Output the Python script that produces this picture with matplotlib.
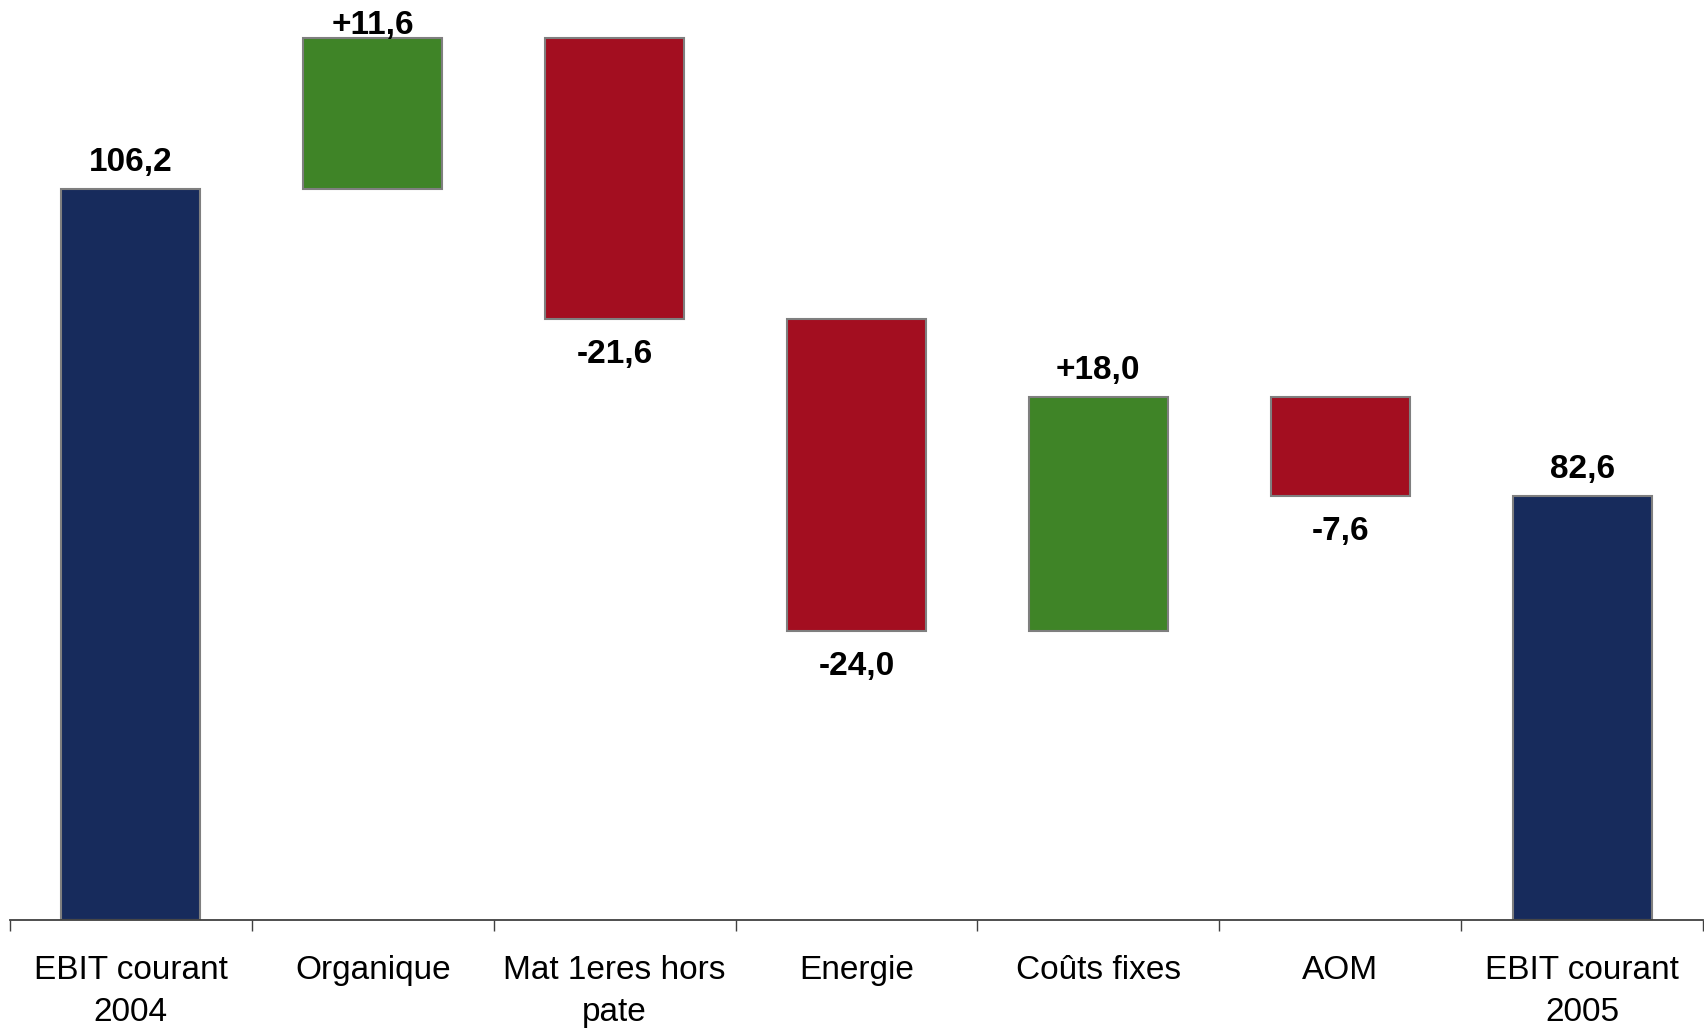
import matplotlib
matplotlib.use("Agg")
import matplotlib.pyplot as plt
import numpy as np

categories = ["EBIT courant\n2004", "Organique", "Mat 1eres hors\npate", "Energie",
              "Coûts fixes", "AOM", "EBIT courant\n2005"]
start_value = 106.2
changes = [11.6, -21.6, -24.0, 18.0, -7.6]
end_value = 82.6
value_labels = ["106,2", "+11,6", "-21,6", "-24,0", "+18,0", "-7,6", "82,6"]

NAVY = "#172B5C"
GREEN = "#3F8427"
RED = "#A30E20"
EDGE = "#7F7F7F"

plt.rcParams['font.family'] = ['Liberation Sans', 'DejaVu Sans']

W, H, DPI = 17.04, 10.28, 100
fig = plt.figure(figsize=(W, H), dpi=DPI)
ax = fig.add_axes([10 / 1704, 108 / 1028, 1693 / 1704, 920 / 1028])

y_min, y_max = 50.0, 120.72
ax.set_ylim(y_min, y_max)
ax.set_xlim(-0.5, len(categories) - 0.5)

# compute bars
bottoms, heights, colors = [], [], []
bottoms.append(y_min); heights.append(start_value - y_min); colors.append(NAVY)
running = start_value
for c in changes:
    if c >= 0:
        bottoms.append(running); heights.append(c); colors.append(GREEN)
    else:
        bottoms.append(running + c); heights.append(-c); colors.append(RED)
    running += c
bottoms.append(y_min); heights.append(end_value - y_min); colors.append(NAVY)

x = np.arange(len(categories))
ax.bar(x, heights, bottom=bottoms, width=0.575, color=colors,
       edgecolor=EDGE, linewidth=1.5, zorder=2)

px_per_unit = (920 / (y_max - y_min))
signs = [1] + [1 if c >= 0 else -1 for c in changes] + [1]
for i, (b, h, s, lab) in enumerate(zip(bottoms, heights, signs, value_labels)):
    if s > 0:
        top = b + h
        room = (y_max - top) * px_per_unit
        off_px = 18 if room > 60 else 4
        ax.annotate(lab, (i, top), xytext=(0, off_px * 72 / DPI), textcoords="offset points",
                    ha="center", va="baseline", fontsize=24, fontweight="bold",
                    color="black", annotation_clip=False)
    else:
        ax.annotate(lab, (i, b), xytext=(0, -20 * 72 / DPI), textcoords="offset points",
                    ha="center", va="top", fontsize=24, fontweight="bold",
                    color="black", annotation_clip=False)

for sp in ["top", "right", "left"]:
    ax.spines[sp].set_visible(False)
ax.spines["bottom"].set_color("#404040")
ax.spines["bottom"].set_linewidth(1.3)
ax.set_yticks([])

ax.set_xticks(np.arange(-0.5, len(categories)), minor=False)
ax.set_xticklabels([])
ax.tick_params(axis="x", which="major", direction="out", length=8, width=1.0, color="#404040")
ax.set_xticks(x, minor=True)
ax.set_xticklabels(categories, minor=True, fontsize=24, linespacing=1.45)
ax.tick_params(axis="x", which="minor", length=0, pad=25)

fig.savefig("out.png", dpi=DPI)
